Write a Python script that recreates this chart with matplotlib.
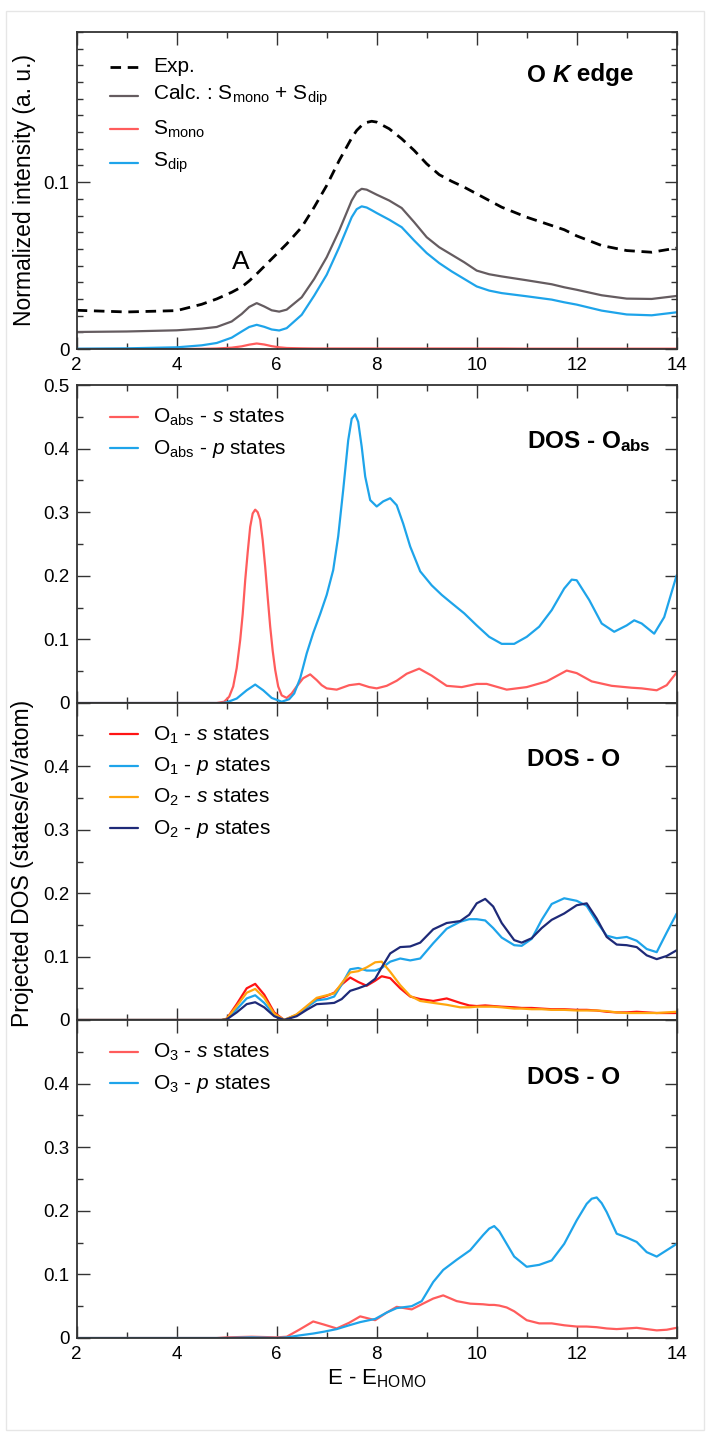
import matplotlib
matplotlib.use("Agg")
import matplotlib.pyplot as plt
from matplotlib.lines import Line2D
from matplotlib.patches import Rectangle
from matplotlib.ticker import MultipleLocator, FixedLocator, FuncFormatter

plt.rcParams['font.family'] = ['Liberation Sans', 'DejaVu Sans']
plt.rcParams['mathtext.fontset'] = 'custom'
plt.rcParams['mathtext.rm'] = 'Liberation Sans'
plt.rcParams['mathtext.it'] = 'Liberation Sans:italic'
plt.rcParams['mathtext.bf'] = 'Liberation Sans:bold'

# ---------------- Panel 1: O K edge ----------------
e_edge = [2, 3, 4, 4.5, 4.8, 5.1, 5.3, 5.45, 5.6, 5.75, 5.9, 6.05, 6.2, 6.5, 6.75,
          7.0, 7.25, 7.5, 7.6, 7.7, 7.8, 7.9, 8.0, 8.25, 8.5, 8.75, 9.0, 9.25, 9.5,
          9.75, 10.0, 10.25, 10.5, 11.0, 11.5, 11.75, 12.0, 12.5, 13.0, 13.5, 14.0]
exp_int = [0.0232, 0.0222, 0.0230, 0.0268, 0.0300, 0.0340, 0.0372, 0.0408, 0.0450,
           0.0495, 0.0540, 0.0585, 0.0630, 0.0730, 0.0850, 0.0980, 0.1130, 0.1265,
           0.1310, 0.1340, 0.1358, 0.1365, 0.1360, 0.1320, 0.1260, 0.1190, 0.1110,
           0.1045, 0.1005, 0.0970, 0.0930, 0.0890, 0.0850, 0.0790, 0.0740, 0.0715,
           0.0678, 0.0620, 0.0590, 0.0580, 0.0605]
calc_int = [0.0102, 0.0105, 0.0112, 0.0122, 0.0132, 0.0165, 0.0210, 0.0252, 0.0275,
            0.0255, 0.0232, 0.0224, 0.0236, 0.0310, 0.0420, 0.0550, 0.0710, 0.0890,
            0.0940, 0.0960, 0.0955, 0.0940, 0.0925, 0.0890, 0.0845, 0.0760, 0.0670,
            0.0610, 0.0565, 0.0520, 0.0470, 0.0448, 0.0435, 0.0412, 0.0388, 0.0370,
            0.0355, 0.0322, 0.0302, 0.0300, 0.0318]
mono_int = [0.0, 0.0, 0.0, 0.0001, 0.0003, 0.0008, 0.0016, 0.0026, 0.0033, 0.0027,
            0.0017, 0.0010, 0.0006, 0.0004, 0.0003, 0.0003, 0.0003, 0.0003, 0.0003,
            0.0003, 0.0003, 0.0003, 0.0003, 0.0003, 0.0003, 0.0003, 0.0003, 0.0003,
            0.0003, 0.0003, 0.0003, 0.0003, 0.0003, 0.0002, 0.0002, 0.0002, 0.0002,
            0.0002, 0.0002, 0.0002, 0.0002]
dip_int = [0.0002, 0.0004, 0.0010, 0.0022, 0.0036, 0.0068, 0.0105, 0.0132, 0.0145,
           0.0133, 0.0117, 0.0111, 0.0125, 0.0205, 0.0320, 0.0445, 0.0610, 0.0790,
           0.0838, 0.0855, 0.0848, 0.0832, 0.0815, 0.0775, 0.0730, 0.0650, 0.0575,
           0.0515, 0.0465, 0.0420, 0.0375, 0.0350, 0.0335, 0.0316, 0.0296, 0.0280,
           0.0266, 0.0230, 0.0207, 0.0202, 0.0220]

# ---------------- Panel 2: DOS - O_abs ----------------
e_abs_s = [2, 4.8, 4.95, 5.05, 5.13, 5.2, 5.27, 5.32, 5.37, 5.42, 5.47, 5.52, 5.57,
           5.62, 5.67, 5.72, 5.77, 5.82, 5.87, 5.92, 5.97, 6.03, 6.1, 6.2, 6.3, 6.4,
           6.53, 6.67, 6.8, 6.9, 7.0, 7.2, 7.45, 7.65, 7.85, 8.0, 8.2, 8.4, 8.6,
           8.85, 9.1, 9.4, 9.7, 10.0, 10.2, 10.6, 11.0, 11.4, 11.8, 12.0, 12.3, 12.7,
           13.1, 13.3, 13.6, 13.8, 14.0]
abs_s = [0.0, 0.0, 0.002, 0.010, 0.026, 0.055, 0.099, 0.140, 0.193, 0.237, 0.277,
         0.298, 0.304, 0.300, 0.288, 0.256, 0.214, 0.166, 0.120, 0.082, 0.052, 0.026,
         0.012, 0.008, 0.015, 0.026, 0.039, 0.045, 0.036, 0.028, 0.023, 0.021, 0.028,
         0.030, 0.025, 0.023, 0.027, 0.035, 0.046, 0.054, 0.043, 0.027, 0.025, 0.030,
         0.030, 0.021, 0.025, 0.034, 0.051, 0.047, 0.034, 0.027, 0.024, 0.023, 0.020,
         0.028, 0.048]
e_abs_p = [2, 4.9, 5.0, 5.2, 5.4, 5.57, 5.73, 5.9, 6.1, 6.25, 6.35, 6.47, 6.6, 6.73,
           6.87, 7.0, 7.13, 7.23, 7.33, 7.43, 7.5, 7.57, 7.63, 7.7, 7.77, 7.87, 8.0,
           8.13, 8.27, 8.4, 8.53, 8.67, 8.87, 9.1, 9.3, 9.5, 9.75, 10.0, 10.25, 10.5,
           10.75, 11.0, 11.25, 11.5, 11.75, 11.9, 12.0, 12.25, 12.5, 12.75, 13.0,
           13.15, 13.3, 13.55, 13.75, 14.0]
abs_p = [0.0, 0.0, 0.001, 0.007, 0.020, 0.029, 0.020, 0.008, 0.002, 0.006, 0.015,
         0.039, 0.078, 0.110, 0.140, 0.170, 0.209, 0.262, 0.335, 0.413, 0.447, 0.454,
         0.442, 0.403, 0.356, 0.319, 0.309, 0.317, 0.322, 0.311, 0.282, 0.246, 0.207,
         0.185, 0.170, 0.157, 0.141, 0.122, 0.104, 0.093, 0.093, 0.104, 0.120, 0.146,
         0.180, 0.194, 0.193, 0.162, 0.125, 0.112, 0.122, 0.130, 0.125, 0.109, 0.135,
         0.201]

# ---------------- Panel 3: DOS - O (O1, O2) ----------------
e_o12 = [2, 4.9, 5.0, 5.2, 5.4, 5.57, 5.75, 5.95, 6.15, 6.4, 6.6, 6.8, 7.0, 7.15,
         7.3, 7.47, 7.63, 7.8, 7.97, 8.1, 8.27, 8.47, 8.67, 8.87, 9.13, 9.4, 9.67,
         9.85, 10.0, 10.17, 10.33, 10.5, 10.75, 10.9, 11.1, 11.3, 11.5, 11.75, 12.0,
         12.2, 12.4, 12.6, 12.8, 13.0, 13.2, 13.4, 13.6, 13.8, 14.0]
o1_s = [0.0, 0.0, 0.002, 0.025, 0.050, 0.057, 0.040, 0.012, 0.0, 0.008, 0.020, 0.033,
        0.038, 0.043, 0.056, 0.067, 0.060, 0.054, 0.062, 0.069, 0.066, 0.050, 0.037,
        0.033, 0.030, 0.034, 0.027, 0.023, 0.022, 0.023, 0.022, 0.021, 0.020, 0.019,
        0.019, 0.018, 0.017, 0.017, 0.016, 0.016, 0.015, 0.013, 0.012, 0.012, 0.013,
        0.012, 0.011, 0.011, 0.011]
o1_p = [0.0, 0.0, 0.001, 0.017, 0.034, 0.039, 0.027, 0.008, 0.0, 0.008, 0.020, 0.031,
        0.033, 0.037, 0.056, 0.080, 0.082, 0.078, 0.078, 0.082, 0.092, 0.097, 0.094,
        0.097, 0.121, 0.144, 0.155, 0.159, 0.159, 0.157, 0.145, 0.130, 0.118, 0.117,
        0.128, 0.158, 0.183, 0.192, 0.188, 0.180, 0.155, 0.133, 0.129, 0.131, 0.125,
        0.112, 0.107, 0.138, 0.168]
o2_s = [0.0, 0.0, 0.002, 0.022, 0.043, 0.049, 0.035, 0.010, 0.0, 0.009, 0.022, 0.035,
        0.039, 0.042, 0.058, 0.075, 0.077, 0.083, 0.091, 0.092, 0.076, 0.055, 0.038,
        0.030, 0.027, 0.024, 0.020, 0.020, 0.021, 0.021, 0.021, 0.020, 0.018, 0.018,
        0.017, 0.017, 0.016, 0.016, 0.015, 0.015, 0.015, 0.014, 0.012, 0.011, 0.011,
        0.011, 0.011, 0.012, 0.013]
o2_p = [0.0, 0.0, 0.001, 0.012, 0.025, 0.028, 0.020, 0.006, 0.0, 0.006, 0.016, 0.025,
        0.026, 0.027, 0.033, 0.046, 0.050, 0.055, 0.065, 0.083, 0.105, 0.115, 0.116,
        0.122, 0.143, 0.153, 0.156, 0.166, 0.184, 0.191, 0.179, 0.153, 0.126, 0.122,
        0.129, 0.145, 0.158, 0.168, 0.181, 0.184, 0.160, 0.131, 0.119, 0.118, 0.115,
        0.102, 0.096, 0.101, 0.110]

# ---------------- Panel 4: DOS - O (O3) ----------------
e_o3 = [2, 4.8, 5.0, 5.5, 6.0, 6.2, 6.45, 6.73, 6.95, 7.2, 7.45, 7.67, 7.97, 8.2,
        8.4, 8.7, 8.9, 9.13, 9.33, 9.6, 9.87, 10.13, 10.25, 10.35, 10.45, 10.6,
        10.75, 11.0, 11.25, 11.5, 11.75, 12.0, 12.2, 12.3, 12.4, 12.5, 12.6, 12.8,
        13.0, 13.2, 13.4, 13.6, 13.8, 14.0]
o3_s = [0.0, 0.0, 0.001, 0.002, 0.001, 0.002, 0.013, 0.026, 0.021, 0.015, 0.024,
        0.034, 0.028, 0.040, 0.049, 0.045, 0.053, 0.062, 0.067, 0.058, 0.054, 0.053,
        0.052, 0.052, 0.051, 0.048, 0.042, 0.028, 0.023, 0.023, 0.020, 0.018, 0.018,
        0.0175, 0.017, 0.016, 0.015, 0.014, 0.015, 0.016, 0.014, 0.012, 0.013, 0.016]
o3_p = [0.0, 0.0, 0.0, 0.001, 0.0, 0.001, 0.004, 0.007, 0.010, 0.014, 0.020, 0.025,
        0.030, 0.040, 0.047, 0.050, 0.058, 0.088, 0.107, 0.123, 0.138, 0.162, 0.172,
        0.176, 0.168, 0.148, 0.128, 0.112, 0.115, 0.122, 0.148, 0.185, 0.211, 0.219,
        0.221, 0.212, 0.198, 0.164, 0.158, 0.151, 0.135, 0.128, 0.138, 0.148]

x_ticks = [2, 4, 6, 8, 10, 12, 14]
x_ticklabels = ['2', '4', '6', '8', '10', '12', '14']

# ---------------- colours ----------------
C_EXP = 'black'
C_CALC = '#655c60'
C_SALMON = '#ff5c5c'
C_SKY = '#1ea4ea'
C_RED = '#ff1414'
C_ORANGE = '#ffa60f'
C_NAVY = '#1e2a78'

W, H = 707, 1432
fig = plt.figure(figsize=(W / 100, H / 100), dpi=100)

AX_L, AX_R = 76.7, 676.7
left = AX_L / W
width = (AX_R - AX_L) / W
panels_px = [(32, 349), (385, 703), (703, 1020), (1020, 1338)]
axes = []
for top, bot in panels_px:
    ax = fig.add_axes([left, 1 - bot / H, width, (bot - top) / H])
    axes.append(ax)

TICK_FS = 13.5
LEG_FS = 15
TITLE_FS = 17.5
LW = 1.6
EXP_DASH = (3.8, 2.4)


def style_axis(ax, ymax, ymajor, yminor, xlabels_show, hide_top_label=False):
    ax.set_xlim(2, 14)
    ax.set_ylim(0, ymax)
    ax.xaxis.set_major_locator(FixedLocator(x_ticks))
    ax.xaxis.set_minor_locator(MultipleLocator(1))
    ax.yaxis.set_major_locator(FixedLocator(ymajor))
    ax.yaxis.set_minor_locator(MultipleLocator(yminor))
    ax.tick_params(which='both', direction='in', top=True, right=True,
                   color='#333333', width=1.0)
    ax.tick_params(which='major', length=9, labelsize=TICK_FS, pad=5)
    ax.tick_params(which='minor', length=4.5)
    if xlabels_show:
        ax.set_xticklabels(x_ticklabels)
        ax.tick_params(axis='x', pad=6)
    else:
        ax.tick_params(axis='x', labelbottom=False)

    def fmt(v, pos):
        if abs(v) < 1e-9:
            return '0'
        if hide_top_label and abs(v - ymax) < 1e-9:
            return ''
        return '%g' % v
    ax.yaxis.set_major_formatter(FuncFormatter(fmt))
    for sp in ax.spines.values():
        sp.set_color('#333333')
        sp.set_linewidth(1.3)


def px_to_axfrac(ax_index, ypx):
    top, bot = panels_px[ax_index]
    return (bot - ypx) / (bot - top)


def xfrac(xpx):
    return (xpx - AX_L) / (AX_R - AX_L)


def manual_legend(ax_index, entries):
    # entries: (label, color, dashed, handle_y_px, baseline_y_px)
    ax = axes[ax_index]
    for label, color, dashed, hy, by in entries:
        yf = px_to_axfrac(ax_index, hy)
        ln = Line2D([xfrac(110), xfrac(137.5)], [yf, yf], transform=ax.transAxes,
                    color=color, lw=2.0 if dashed else LW)
        if dashed:
            ln.set_dashes(EXP_DASH)
        ax.add_line(ln)
        ax.text(xfrac(153), px_to_axfrac(ax_index, by), label, transform=ax.transAxes,
                fontsize=LEG_FS, ha='left', va='baseline')


def title(ax_index, text, baseline_px):
    ax = axes[ax_index]
    return ax.text(xfrac(527), px_to_axfrac(ax_index, baseline_px), text,
                   transform=ax.transAxes, fontsize=TITLE_FS, fontweight='bold',
                   ha='left', va='baseline')


# Panel 1
ax = axes[0]
ax.plot(e_edge, exp_int, color=C_EXP, lw=2.0, dashes=EXP_DASH)
ax.plot(e_edge, calc_int, color=C_CALC, lw=LW)
ax.plot(e_edge, mono_int, color=C_SALMON, lw=LW)
ax.plot(e_edge, dip_int, color=C_SKY, lw=LW)
style_axis(ax, 0.19, [0, 0.1], 0.01, True)
ax.text(5.29, 0.0524, 'A', ha='center', va='center', fontsize=19)
t1 = title(0, 'O ', 81.5)
t2 = ax.annotate('K', xy=(1, 0), xycoords=t1, fontsize=TITLE_FS, fontweight='bold',
                 style='italic', ha='left', va='bottom')
ax.annotate(' edge', xy=(1, 0), xycoords=t2, fontsize=TITLE_FS, fontweight='bold',
            ha='left', va='bottom')
manual_legend(0, [
    ('Exp.', C_EXP, True, 66.5, 71.5),
    (r'Calc. : $\mathrm{S}_{\mathrm{mono}}$ + $\mathrm{S}_{\mathrm{dip}}$', C_CALC, False, 96, 100),
    (r'$\mathrm{S}_{\mathrm{mono}}$', C_SALMON, False, 129, 135),
    (r'$\mathrm{S}_{\mathrm{dip}}$', C_SKY, False, 162.5, 167),
])

# Panel 2
ax = axes[1]
ax.plot(e_abs_s, abs_s, color=C_SALMON, lw=LW)
ax.plot(e_abs_p, abs_p, color=C_SKY, lw=LW)
style_axis(ax, 0.5, [0, 0.1, 0.2, 0.3, 0.4, 0.5], 0.05, False)
title(1, r'DOS - $\mathbf{O}_{\mathbf{abs}}$', 448.5)
manual_legend(1, [
    (r'$\mathrm{O}_{\mathrm{abs}}$ - $\mathit{s}$ states', C_SALMON, False, 417, 422.5),
    (r'$\mathrm{O}_{\mathrm{abs}}$ - $\mathit{p}$ states', C_SKY, False, 448, 454),
])

# Panel 3
ax = axes[2]
ax.plot(e_o12, o1_s, color=C_RED, lw=LW)
ax.plot(e_o12, o1_p, color=C_SKY, lw=LW)
ax.plot(e_o12, o2_s, color=C_ORANGE, lw=LW)
ax.plot(e_o12, o2_p, color=C_NAVY, lw=LW)
style_axis(ax, 0.5, [0, 0.1, 0.2, 0.3, 0.4, 0.5], 0.05, False, hide_top_label=True)
title(2, 'DOS - O', 766.5)
manual_legend(2, [
    (r'$\mathrm{O}_{1}$ - $\mathit{s}$ states', C_RED, False, 734, 741),
    (r'$\mathrm{O}_{1}$ - $\mathit{p}$ states', C_SKY, False, 765.5, 771),
    (r'$\mathrm{O}_{2}$ - $\mathit{s}$ states', C_ORANGE, False, 797, 802.5),
    (r'$\mathrm{O}_{2}$ - $\mathit{p}$ states', C_NAVY, False, 827.5, 834),
])

# Panel 4
ax = axes[3]
ax.plot(e_o3, o3_s, color=C_SALMON, lw=LW)
ax.plot(e_o3, o3_p, color=C_SKY, lw=LW)
style_axis(ax, 0.5, [0, 0.1, 0.2, 0.3, 0.4, 0.5], 0.05, True, hide_top_label=True)
title(3, 'DOS - O', 1084.5)
manual_legend(3, [
    (r'$\mathrm{O}_{3}$ - $\mathit{s}$ states', C_SALMON, False, 1051.5, 1057.5),
    (r'$\mathrm{O}_{3}$ - $\mathit{p}$ states', C_SKY, False, 1083, 1089),
])
ax.set_xlabel(r'E - $\mathrm{E}_{\mathrm{HOMO}}$', fontsize=16, labelpad=3)

for a in axes:
    for ln in a.get_lines():
        ln.set_solid_joinstyle('round')
        ln.set_solid_capstyle('round')

# y labels
fig.text(25 / W, 1 - 190.5 / H, 'Normalized intensity (a. u.)', rotation=90,
         ha='center', va='center', fontsize=16.5)
fig.text(23 / W, 1 - 863 / H, 'Projected DOS (states/eV/atom)', rotation=90,
         ha='center', va='center', fontsize=16.5)

# light frame around the figure
fig.patches.append(Rectangle((6 / W, 2 / H), 698 / W, 1419 / H, transform=fig.transFigure,
                             fill=False, edgecolor='#e6e6e6', lw=1.0))

fig.savefig('out.png', dpi=100)
